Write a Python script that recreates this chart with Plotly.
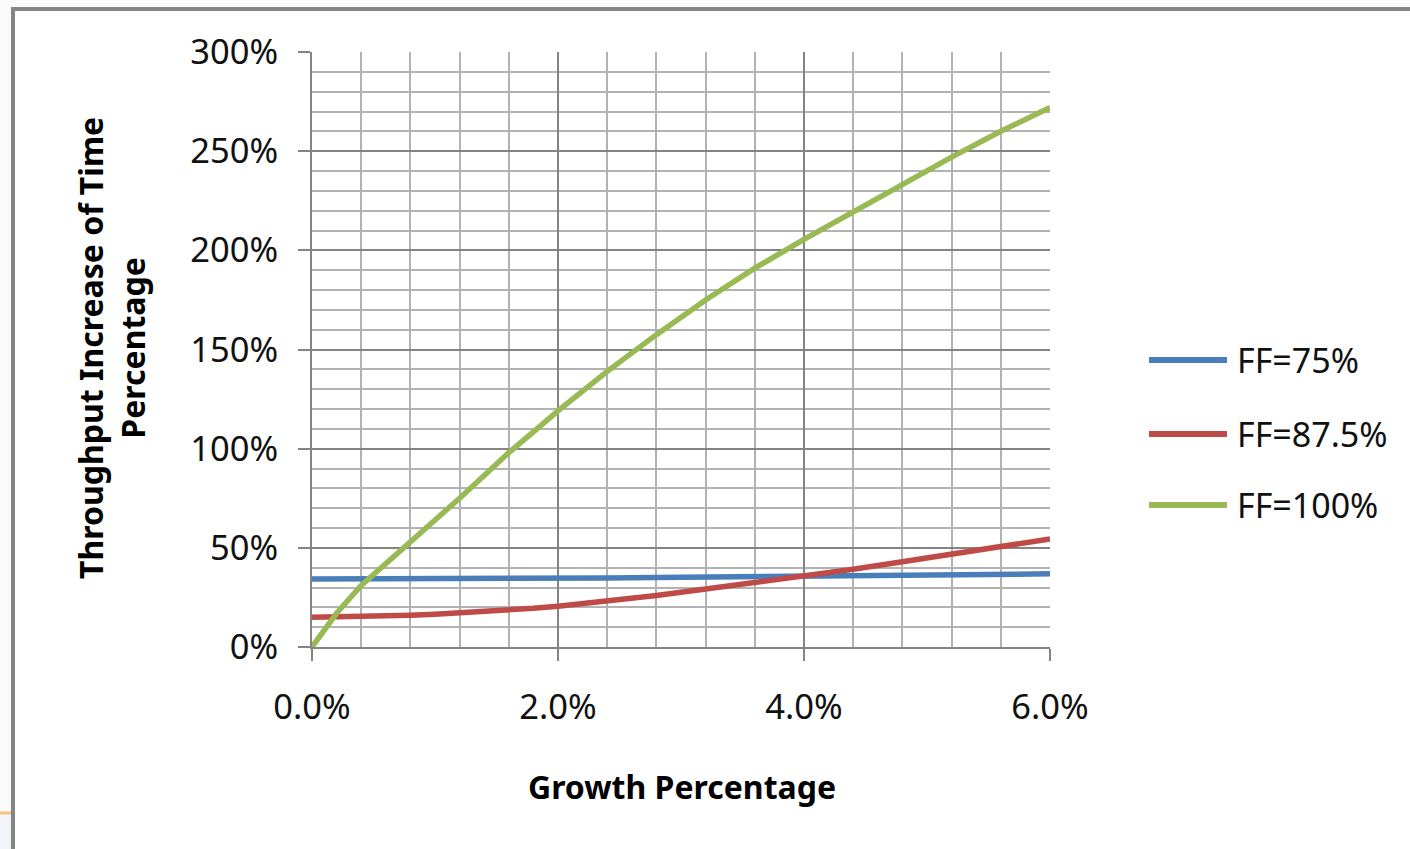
import plotly.graph_objects as go

# Growth percentage (%) on the x axis
growth = [0.0, 0.2, 0.4, 0.6, 0.8, 1.0, 1.2, 1.4, 1.6, 1.8, 2.0,
          2.4, 2.8, 3.2, 3.6, 4.0, 4.4, 4.8, 5.2, 5.6, 6.0]

# Throughput increase of time (%) for each fill factor
ff_75 = [34.3, 34.3, 34.3, 34.3, 34.4, 34.4, 34.4, 34.5, 34.5, 34.6, 34.6,
         34.8, 35.0, 35.2, 35.4, 35.6, 35.9, 36.1, 36.4, 36.6, 36.9]
ff_875 = [15.0, 15.1, 15.3, 15.6, 16.0, 16.5, 17.1, 17.8, 18.6, 19.5, 20.6,
          23.1, 26.0, 29.2, 32.4, 35.6, 39.2, 43.0, 46.9, 50.7, 54.5]
ff_100 = [0.0, 17.0, 31.0, 42.0, 52.5, 63.5, 75.0, 86.5, 98.0, 108.5, 119.0,
          139.0, 157.5, 175.0, 191.0, 205.5, 219.5, 233.0, 247.0, 260.0, 272.0]

series_names = ["FF=75%", "FF=87.5%", "FF=100%"]
series_values = [ff_75, ff_875, ff_100]
series_colors = ["#4a7ebb", "#be4b48", "#98b954"]

x_title = "Growth Percentage"
y_title = "Throughput Increase of Time<br>Percentage"

W, H = 1410, 849
L, R, T, B = 312, 1050, 52, 647  # plot area in pixels


def px_x(p):
    return (p - L) / (R - L)


def px_y(p):
    return (B - p) / (B - T)


fig = go.Figure()
for name, vals, col in zip(series_names, series_values, series_colors):
    fig.add_trace(go.Scatter(x=growth, y=vals, name=name, mode="lines",
                             line=dict(color=col, width=5.5),
                             showlegend=False))

major = "#848484"
minor = "#b2b2b2"
font_family = "Noto Sans"
tick_font = dict(family=font_family, size=34.5, color="#111111")

fig.update_xaxes(range=[0, 6], dtick=2, tick0=0, tickformat=".1f", ticksuffix="%",
                 showgrid=True, gridcolor=major, gridwidth=2,
                 minor=dict(dtick=0.4, showgrid=True, gridcolor=minor, gridwidth=1.6),
                 showline=True, linecolor=major, linewidth=2,
                 ticks="outside", ticklen=12, tickwidth=2, tickcolor=major,
                 ticklabelstandoff=17,
                 tickfont=tick_font,
                 zeroline=False, fixedrange=True)
fig.update_yaxes(range=[0, 300], dtick=50, tick0=0, ticksuffix="%",
                 showgrid=True, gridcolor=major, gridwidth=2,
                 minor=dict(dtick=10, showgrid=True, gridcolor=minor, gridwidth=1.6),
                 showline=True, linecolor=major, linewidth=2,
                 ticks="outside", ticklen=12, tickwidth=2, tickcolor=major,
                 ticklabelstandoff=13,
                 tickfont=tick_font,
                 zeroline=False, fixedrange=True)

shapes = []
# page strip outside the chart frame
shapes.append(dict(type="rect", xref="paper", yref="paper",
                   x0=px_x(0), x1=px_x(11), y0=px_y(0), y1=px_y(H),
                   fillcolor="#fafafa", line=dict(width=0)))
shapes.append(dict(type="rect", xref="paper", yref="paper",
                   x0=px_x(0), x1=px_x(W), y0=px_y(0), y1=px_y(7),
                   fillcolor="#fafafa", line=dict(width=0)))
shapes.append(dict(type="rect", xref="paper", yref="paper",
                   x0=px_x(0), x1=px_x(11), y0=px_y(815), y1=px_y(H),
                   fillcolor="#f3f5fb", line=dict(width=0)))
shapes.append(dict(type="line", xref="paper", yref="paper",
                   x0=px_x(0), x1=px_x(11), y0=px_y(813), y1=px_y(813),
                   line=dict(color="#f7c27c", width=3)))
# chart frame
shapes.append(dict(type="line", xref="paper", yref="paper",
                   x0=px_x(13), x1=px_x(13), y0=px_y(7), y1=px_y(H),
                   line=dict(color="#858585", width=4)))
shapes.append(dict(type="line", xref="paper", yref="paper",
                   x0=px_x(11), x1=px_x(W), y0=px_y(9), y1=px_y(9),
                   line=dict(color="#858585", width=4)))

annotations = []
# legend
legend_rows = [360, 434, 505]
for name, col, ry in zip(series_names, series_colors, legend_rows):
    shapes.append(dict(type="line", xref="paper", yref="paper",
                       x0=px_x(1149), x1=px_x(1227), y0=px_y(ry), y1=px_y(ry),
                       line=dict(color=col, width=6)))
    annotations.append(dict(text=name, xref="paper", yref="paper",
                            x=px_x(1235), y=px_y(ry), xanchor="left", yanchor="middle",
                            showarrow=False,
                            font=dict(family=font_family, size=34, color="#111111")))

# axis titles
annotations.append(dict(text=f"<b>{x_title}</b>", xref="paper", yref="paper",
                        x=px_x(682), y=px_y(786), xanchor="center", yanchor="middle",
                        showarrow=False,
                        font=dict(family=font_family, size=32, color="#000000")))
annotations.append(dict(text=f"<b>{y_title}</b>", xref="paper", yref="paper",
                        x=px_x(111), y=px_y(348), xanchor="center", yanchor="middle",
                        textangle=-90, showarrow=False,
                        font=dict(family=font_family, size=32, color="#000000")))

fig.update_layout(width=W, height=H,
                  margin=dict(l=L, r=W - R, t=T, b=H - B, pad=0),
                  paper_bgcolor="#ffffff", plot_bgcolor="#ffffff",
                  shapes=shapes, annotations=annotations,
                  showlegend=False)

fig.write_html("out.html", config={"displayModeBar": False})
